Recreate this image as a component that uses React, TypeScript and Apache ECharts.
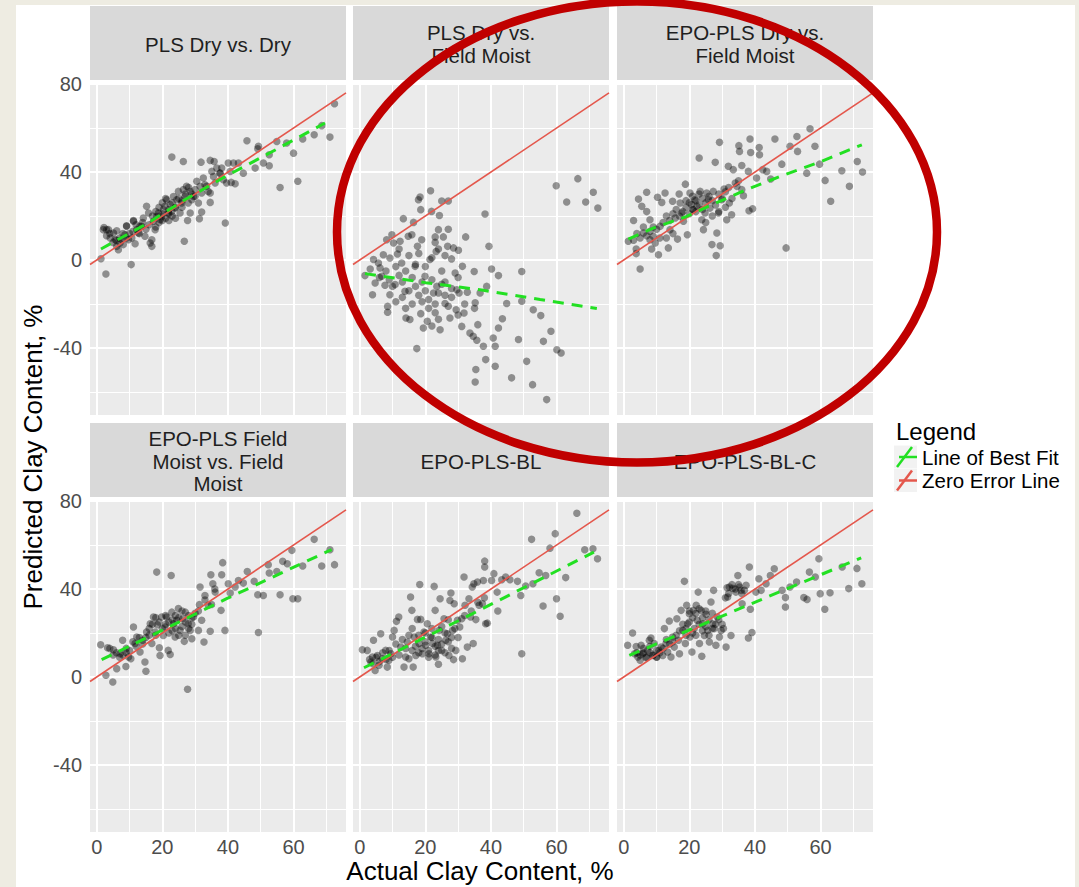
import React, { useEffect, useRef } from "react";
import * as echarts from "echarts";

// ---------- data ----------
const PANEL_TITLES = [
  "PLS Dry vs. Dry",
  "PLS Dry vs.\nField Moist",
  "EPO-PLS Dry vs.\nField Moist",
  "EPO-PLS Field\nMoist vs. Field\nMoist",
  "EPO-PLS-BL",
  "EPO-PLS-BL-C",
];

const X_TICKS = [0, 20, 40, 60];
const X_MINOR = [10, 30, 50, 70];
const Y_TICKS = [-40, 0, 40, 80];
const Y_MINOR = [-60, -20, 20, 60];
const X_MIN = -2.05;
const X_MAX = 76;
const Y_MIN = -70.5;
const Y_MAX = 80.5;

const PANEL1_POINTS = [
  [1.3,0.6],[2.8,-6.4],[10.5,-2.1],[2.2,14.8],[3.6,13.8],[6.1,13.3],[9.1,15.3],[11.2,17.6],[26.7,8.5],[22.9,46.8],
  [26.4,44.8],[31.8,44.5],[34.6,45.3],[35.8,44.8],[39.2,16.8],[45.8,54.2],[49.3,51.7],[49.1,50.6],[50.8,44.1],[52.6,47.9],
  [52.6,42.9],[54.9,53.9],[55.9,33.0],[57.9,53.2],[60.0,48.6],[61.3,35.8],[62.8,55.0],[66.3,57.0],[68.6,61.1],[71.1,55.9],
  [72.5,71.1],[44.7,39.5],[48.3,41.8],[39.6,35.0],[42.2,34.7],[40.7,40.3],[41.7,44.1],[43.2,44.1],[37.6,39.5],[34.6,30.5],
  [34.6,26.2],[32.0,21.8],[31.3,18.8],[27.7,18.0],[28.5,21.4],
  [2.0,13.8],[3.0,13.8],[4.1,10.0],[5.1,12.3],[5.6,9.2],[6.1,6.2],[6.6,4.7],[7.1,7.7],[7.6,9.2],[8.1,7.0],
  [8.6,11.5],[9.1,15.6],[9.7,9.2],[10.7,10.0],[11.2,18.0],[11.7,7.4],[12.2,13.8],[12.7,12.3],[13.2,15.3],[13.7,15.3],
  [14.2,19.1],[14.7,10.8],[15.2,24.4],[15.8,21.4],[16.3,7.7],[16.8,6.2],[16.8,9.2],[17.3,17.6],[17.8,13.8],[18.3,19.8],
  [18.8,21.4],[19.3,18.3],[19.8,19.8],[20.3,22.9],[20.8,24.4],[21.3,27.4],[21.8,21.4],[22.4,25.2],[22.9,22.1],[23.4,28.9],
  [23.9,23.6],[24.4,27.4],[24.9,31.2],[25.4,21.4],[25.9,25.9],[26.4,32.0],[26.9,28.9],[27.4,33.5],[27.9,25.9],[28.5,31.2],
  [29.0,27.4],[29.5,28.9],[30.0,32.0],[30.5,35.8],[31.0,25.9],[31.5,33.5],[32.0,30.5],[32.5,37.3],[33.0,34.2],[33.5,33.5],
  [34.0,31.2],[35.1,40.3],[35.6,38.0],[36.1,35.0],[36.6,41.8],[37.6,39.5],[38.1,41.8],[38.6,36.5],[40.1,44.1],[41.0,35.3],
  [17,20],[18,22],[19,17],[20,21],[21,19],[22,23],[23,20],[24,24],[19,24],[20,26],
  [22,18],[21,28],[18,15],[16,16],[15,14],[14,17],[13,12],[12,16],[11,13],[10,12],
  [9,10],[8,12],[7,10],[6,9],[5,8],[4,12],[3,11],[23,26],[25,28],[26,24],
  [27,30],[28,33],[29,30],[30,29],[24,19],[22,21],[20,18],[26,27],
];

const PANEL2_POINTS = [
  [1.6,-7.1],[3.2,-4.1],[3.9,-15.8],[4.2,0.2],[4.7,-10.5],[5.7,-1.4],[6.2,-3.6],[6.7,-7.4],[7.2,2.4],[7.7,-11.5],
  [8.2,9.2],[8.5,-21.1],[8.5,-23.8],[9.2,0.9],[9.2,-15.8],[9.8,11.5],[10.3,7.7],[10.8,-11.2],[11.5,2.7],[12.3,8.5],
  [12.8,-1.4],[13.3,18.8],[13.8,-14.2],[14.1,-26.4],[14.8,10.8],[15.3,-27.1],[15.9,11.5],[16.4,17.1],[16.9,-2.9],[17.4,-40.3],
  [17.6,6.2],[17.9,27.4],[18.4,28.6],[18.6,22.9],[18.6,-24.4],[18.9,9.2],[19.4,-30.9],[19.9,-7.4],[20.6,-27.9],[21.4,0.2],
  [21.6,31.5],[21.9,22.1],[22.5,-15.0],[23.0,10.5],[23.3,3.9],[23.5,-12.0],[24.0,13.8],[24.3,20.2],[24.5,-31.7],[25.0,26.8],
  [25.5,10.5],[26.0,-19.8],[26.8,6.2],[27.0,26.8],[27.5,-26.4],[28.0,0.5],[28.6,5.5],[29.1,-5.9],[29.4,-22.6],[29.6,-13.5],
  [30.1,4.4],[30.3,-15.0],[31.1,-30.2],[31.3,-2.9],[31.8,-24.1],[32.3,10.5],[32.8,-14.7],[33.6,-33.2],[34.6,-34.7],[34.9,-5.2],
  [35.2,-19.5],[35.4,-49.8],[35.2,-55.5],[35.7,-36.5],[36.0,-29.4],[36.7,-15.0],[37.7,-39.2],[38.2,20.9],[38.4,-45.3],[38.7,-12.0],
  [39.4,6.2],[40.2,-4.1],[40.7,-35.5],[41.3,-39.2],[41.3,-48.3],[42.3,-7.1],[42.3,-30.9],[43.5,-26.7],[44.8,-19.8],[46.3,-53.6],
  [48.4,-36.2],[49.4,-5.2],[49.4,-18.8],[50.9,-46.1],[52.7,-56.7],[52.9,-22.6],[55.2,-25.3],[56.0,-37.0],[57.0,-63.5],[58.3,-32.4],
  [59.9,33.8],[60.1,-40.8],[61.4,-42.3],[63.1,26.4],[66.5,37.0],[68.9,26.4],[71.2,30.8],[72.6,23.6],
  [6,-8],[8,-5],[9,-9],[10,-12],[11,-3],[12,-7],[13,-10],[14,-5],[15,-14],[16,-8],
  [17,-12],[18,-16],[19,-10],[20,-14],[21,-18],[22,-9],[23,-20],[24,-15],[25,-11],[26,-16],
  [27,-21],[28,-13],[20,-3],[22,1],[24,5],[18,3],[16,-20],[14,-22],[21,-22],[23,-24],
  [25,-5],[19,-19],[17,-2],[13,-17],[11,-19],[26,-10],[28,-17],[30,-8],[32,-20],[35,-22],
  [12,5],[15,2],[27,14],[23,8],[26,2],[30,-25],[24,-27],[22,-30],
];

const PANEL3_POINTS = [
  [1.4,8.5],[3.0,18.0],[3.8,5.0],[3.8,2.9],[4.5,27.7],[5.0,-4.1],[5.5,24.4],[6.0,12.3],[7.0,30.8],[7.0,22.0],
  [8.0,18.3],[8.0,9.2],[8.5,5.0],[9.0,10.8],[9.6,7.7],[10.3,28.5],[10.6,2.4],[11.1,15.3],[11.6,26.2],[12.6,30.5],
  [13.6,5.5],[14.1,13.8],[14.9,26.7],[15.7,19.1],[16.4,9.5],[16.9,30.0],[17.2,25.9],[17.7,21.4],[18.2,17.6],[18.8,34.5],
  [19.4,11.5],[20.2,30.5],[20.7,25.2],[21.2,22.9],[21.7,27.4],[22.3,24.4],[23.0,46.4],[23.3,31.2],[23.8,18.3],[24.3,13.8],
  [24.8,21.4],[25.3,30.5],[25.8,27.4],[26.3,23.6],[26.9,7.0],[27.3,31.2],[27.9,44.4],[28.2,2.0],[28.4,12.3],[28.9,21.4],
  [29.2,53.5],[29.4,6.5],[29.9,27.4],[30.6,32.3],[31.4,18.3],[31.9,42.6],[32.2,25.9],[32.9,20.6],[33.4,41.1],[34.5,33.5],
  [35.1,52.0],[35.3,49.4],[36.0,43.0],[36.5,29.2],[38.0,40.3],[38.2,22.4],[38.5,55.0],[38.7,48.9],[39.3,23.3],[40.5,37.3],
  [41.3,51.2],[41.4,47.9],[42.4,41.1],[43.6,40.3],[44.8,36.8],[46.1,55.0],[48.2,43.6],[49.5,5.5],[50.7,51.7],[52.8,56.2],
  [53.0,49.4],[55.8,39.5],[56.8,59.7],[58.3,51.7],[59.7,43.6],[61.4,36.2],[63.1,26.7],[66.5,40.6],[68.8,33.5],[71.2,44.8],
  [72.8,40.0],
  [18,22],[19,24],[20,26],[21,23],[22,27],[23,25],[24,28],[25,26],[21,29],[20,21],
  [22,22],[23,30],[24,23],[26,29],[27,27],[19,27],[17,20],[16,23],[15,21],[14,18],
  [13,20],[12,17],[10,14],[9,15],[8,13],[7,11],[6,15],[5,10],[4,12],[3,9],
  [11,10],[13,10],[15,12],[28,25],[29,30],[30,28],[31,31],[32,33],[33,28],[34,35],
  [35,36],[36,32],[25,17],[27,20],[29,22],[31,24],
];

const PANEL4_POINTS = [
  [1.2,14.7],[2.8,0.8],[3.3,13.3],[4.9,-2.3],[5.1,12.4],[6.1,3.8],[7.1,10.6],[7.9,16.7],[8.9,4.8],[9.7,9.1],
  [10.4,8.3],[11.2,22.7],[11.7,15.2],[12.2,18.2],[13.2,11.4],[14.0,16.7],[14.7,6.8],[15.0,2.6],[15.2,20.5],[16.3,24.2],
  [16.8,15.2],[17.3,27.3],[17.8,20.5],[18.3,47.7],[18.5,23.8],[19.1,13.3],[19.3,9.8],[19.8,27.3],[20.3,18.9],[20.8,22.7],
  [21.3,27.3],[21.8,12.1],[22.4,10.2],[22.7,46.2],[22.9,29.5],[23.4,24.2],[23.9,18.2],[24.4,25.8],[24.9,31.1],[25.4,21.2],
  [26.2,26.5],[26.7,16.2],[27.0,29.5],[27.7,-5.6],[27.9,24.2],[28.5,21.2],[29.0,17.4],[29.5,27.3],[31.0,21.2],[31.3,32.9],
  [31.5,40.9],[32.0,25.8],[32.7,15.9],[33.0,37.1],[34.0,32.6],[34.6,20.8],[34.8,46.5],[35.4,42.4],[36.1,38.6],[37.9,30.3],
  [38.1,46.5],[38.4,52.0],[39.1,21.2],[40.1,42.4],[40.7,38.2],[42.2,40.9],[43.2,43.9],[44.7,42.7],[45.9,48.0],[48.0,43.5],
  [49.1,37.4],[49.3,20.2],[50.8,37.1],[52.3,51.1],[52.6,47.3],[54.9,48.0],[55.9,37.4],[56.7,52.6],[58.1,51.5],[59.5,57.6],
  [59.8,35.6],[61.3,35.6],[62.8,50.5],[66.3,62.6],[68.6,50.5],[71.1,57.9],[72.5,51.1],
  [15,18],[16,22],[17,24],[18,19],[19,25],[20,22],[21,24],[22,20],[23,26],[24,22],
  [25,27],[26,23],[27,25],[28,28],[29,24],[30,29],[21,28],[23,21],[25,19],[18,27],
  [16,19],[14,15],[13,18],[12,14],[10,12],[9,11],[8,10],[7,9],[6,11],[5,10],
  [4,13],[9,13],[11,16],[26,30],[28,22],[22,25],[24,28],[27,19],[29,27],[31,30],
  [33,35],[35,33],[36,40],
];

const PANEL5_POINTS = [
  [0.8,12.4],[2.3,12.1],[3.4,6.8],[3.9,9.1],[4.2,16.7],[4.7,3.0],[5.4,9.8],[5.9,5.3],[6.4,19.7],[6.9,8.3],
  [7.9,12.1],[8.4,4.5],[8.9,7.6],[9.5,10.6],[10.0,18.2],[10.5,21.2],[11.2,25.3],[11.9,27.3],[12.5,13.6],[13.5,4.5],
  [14.0,9.1],[14.5,15.9],[15.0,8.3],[15.5,36.4],[15.9,30.3],[16.3,4.5],[16.6,18.2],[17.1,9.8],[17.6,26.2],[18.1,15.2],
  [18.3,42.1],[18.6,26.2],[19.1,10.6],[19.6,20.5],[20.1,14.4],[20.6,24.2],[21.1,10.6],[21.6,18.2],[22.2,15.2],[22.7,41.2],
  [23.0,30.3],[23.2,9.1],[23.7,14.4],[24.0,5.8],[24.2,21.2],[24.5,35.6],[25.0,12.1],[25.7,26.5],[26.2,16.7],[26.7,19.7],
  [27.2,9.8],[27.5,34.8],[27.8,38.2],[28.3,21.2],[28.6,7.9],[28.8,33.3],[29.3,12.1],[29.8,25.8],[30.5,22.7],[31.1,26.5],
  [31.3,8.3],[31.8,45.5],[32.1,32.6],[32.8,13.6],[33.3,35.6],[33.8,27.3],[34.3,40.9],[34.6,15.2],[34.8,42.4],[35.4,26.1],
  [35.9,43.2],[36.4,32.6],[37.4,33.3],[37.7,43.9],[38.1,52.7],[38.1,50.0],[38.4,24.2],[38.9,24.5],[40.2,43.9],[40.9,47.0],
  [41.9,38.6],[42.1,30.0],[43.3,44.2],[44.5,45.5],[45.8,44.2],[48.1,43.5],[49.1,37.1],[49.4,10.6],[50.6,41.4],[52.4,62.6],
  [52.8,42.4],[54.7,47.4],[55.9,32.3],[56.7,46.2],[58.0,58.6],[59.6,65.2],[60.0,35.6],[61.1,27.6],[62.8,45.2],[66.2,74.5],
  [68.6,57.9],[71.1,58.3],[72.5,53.8],
  [16,12],[17,14],[18,11],[19,13],[20,16],[21,12],[22,18],[23,14],[24,17],[25,15],
  [26,20],[27,16],[28,18],[29,22],[20,20],[22,22],[24,12],[18,19],[16,22],[14,13],
  [12,10],[10,9],[8,8],[6,7],[5,9],[4,6],[3,8],[7,11],[9,12],[11,15],
  [13,17],[15,19],[21,9],[23,10],[25,23],[27,26],[30,18],[32,28],[34,30],[36,34],
  [38,36],[26,11],[28,13],
];

const PANEL6_POINTS = [
  [1.2,14.4],[2.7,20.0],[3.3,10.6],[3.8,13.9],[4.3,9.1],[5.0,7.6],[5.3,14.4],[5.8,10.6],[6.8,8.8],[7.3,12.1],
  [7.8,16.7],[8.3,17.7],[8.8,9.8],[9.3,15.2],[10.1,9.1],[10.7,12.1],[11.4,13.6],[11.9,9.8],[12.4,22.0],[12.9,15.2],
  [13.4,11.4],[13.9,25.5],[14.4,9.1],[14.9,18.2],[15.4,13.6],[16.2,26.5],[16.7,16.7],[17.0,10.6],[17.5,30.3],[18.0,21.2],
  [18.5,43.5],[18.8,15.2],[19.2,32.6],[19.5,24.2],[20.0,28.8],[20.2,18.2],[20.8,11.4],[21.2,30.3],[21.5,22.0],[22.1,32.6],
  [22.4,25.8],[22.7,38.6],[23.1,15.2],[23.6,30.3],[23.8,9.4],[24.1,24.2],[24.6,18.9],[25.1,28.5],[25.6,21.2],[26.1,15.9],
  [26.6,34.1],[27.1,24.2],[27.4,39.4],[27.6,22.0],[28.1,14.4],[28.5,27.3],[29.2,18.2],[29.7,21.2],[30.4,22.0],[31.2,13.6],
  [31.5,40.6],[31.7,36.4],[32.2,40.9],[32.7,18.9],[33.2,40.3],[34.2,38.6],[34.8,46.2],[35.3,40.9],[35.8,39.4],[36.1,33.3],
  [36.8,39.4],[37.3,41.7],[38.0,17.7],[38.3,50.0],[38.6,30.8],[39.1,20.2],[40.3,38.6],[41.2,44.7],[41.9,39.4],[43.4,42.4],
  [44.7,46.2],[45.9,49.2],[48.3,39.4],[49.3,31.8],[49.3,36.1],[50.7,40.9],[52.7,43.2],[54.9,36.1],[55.9,35.3],[56.6,47.7],
  [58.4,45.5],[59.5,53.8],[59.9,37.9],[61.3,30.8],[62.9,38.3],[66.6,50.0],[68.6,40.2],[71.1,49.4],[72.6,42.4],
  [5,10],[6,11],[7,9],[8,11],[9,10],[10,12],[11,11],[12,13],[6,13],[8,14],
  [10,9],[4,11],[19,22],[20,25],[21,27],[22,29],[23,24],[24,27],[25,23],[26,26],
  [27,22],[28,24],[21,20],[22,19],[23,31],[20,30],[19,19],[18,24],[24,21],[25,30],
  [26,19],[27,29],[29,26],[30,24],[17,21],[16,19],[15,16],[14,15],[13,17],[32,38],
  [33,42],[34,40],[35,42],[36,38],[31,36],
];

const FIT1 = [[1.3,5.0],[15,16.3],[27,27.5],[40,38.6],[55,50.5],[69.6,62.3]];
const FIT2 = [[1.6,-6.2],[20,-10.3],[37.7,-13.8],[55,-18.0],[72.3,-22.1]];
const FIT3 = [[1.4,9.5],[9,14.5],[19.2,19.8],[27.3,25.4],[37.5,32.0],[47.7,38.0],[59.9,44.6],[72.6,52.4]];
const FIT4 = [[1.5,7.9],[20,21.3],[39.6,35.6],[62,51.3],[71.6,57.9]];
const FIT5 = [[1.3,4.2],[34.3,28.7],[71.4,56.8]];
const FIT6 = [[1.7,9.8],[40.3,34.2],[72.4,54.2]];

const POINTS = [PANEL1_POINTS, PANEL2_POINTS, PANEL3_POINTS, PANEL4_POINTS, PANEL5_POINTS, PANEL6_POINTS];
const FITS = [FIT1, FIT2, FIT3, FIT4, FIT5, FIT6];

const LEGEND_TITLE = "Legend";
const LEGEND_ITEMS = ["Line of Best Fit", "Zero Error Line"];

// ---------- layout ----------
const PANEL_LEFT = [90, 353, 617];
const PANEL_TOP = [83, 500];
const STRIP_TOP = [6, 423];
const PANEL_W = 256;
const PANEL_H = 332;
const STRIP_H = 74;
const FONT = "'Liberation Sans', Arial, Helvetica, sans-serif";
const GREEN = "#22E022";
const RED = "#E4574C";

function gridLineItems() {
  return [
    ...X_TICKS.map((v) => ({ xAxis: v, lineStyle: { color: "#FFFFFF", width: 2, type: "solid" } })),
    ...X_MINOR.map((v) => ({ xAxis: v, lineStyle: { color: "#FFFFFF", width: 1, type: "solid" } })),
    ...Y_TICKS.map((v) => ({ yAxis: v, lineStyle: { color: "#FFFFFF", width: 2, type: "solid" } })),
    ...Y_MINOR.map((v) => ({ yAxis: v, lineStyle: { color: "#FFFFFF", width: 1, type: "solid" } })),
  ];
}

function buildOption() {
  const grid: any[] = [];
  const xAxis: any[] = [];
  const yAxis: any[] = [];
  const series: any[] = [];
  const graphic: any[] = [];

  for (let i = 0; i < 6; i++) {
    const r = Math.floor(i / 3);
    const c = i % 3;
    const left = PANEL_LEFT[c];
    const top = PANEL_TOP[r];
    grid.push({
      left, top, width: PANEL_W, height: PANEL_H,
      show: true, backgroundColor: "#EBEBEB", borderWidth: 0,
      containLabel: false, outerBoundsMode: "none",
    });
    xAxis.push({
      gridIndex: i, type: "value", min: X_MIN, max: X_MAX,
      axisLine: { show: false },
      splitLine: { show: false },
      axisTick: { show: r === 1, customValues: X_TICKS, length: 5, lineStyle: { color: "#333333", width: 1 } },
      axisLabel: { show: r === 1, customValues: X_TICKS, margin: 5, fontSize: 20, color: "#4D4D4D", fontFamily: FONT },
    });
    yAxis.push({
      gridIndex: i, type: "value", min: Y_MIN, max: Y_MAX,
      axisLine: { show: false },
      splitLine: { show: false },
      axisTick: { show: c === 0, customValues: Y_TICKS, length: 5, lineStyle: { color: "#333333", width: 1 } },
      axisLabel: { show: c === 0, customValues: Y_TICKS, margin: 8, fontSize: 20, color: "#4D4D4D", fontFamily: FONT },
    });

    series.push({
      type: "line",
      name: "Zero Error Line",
      xAxisIndex: i, yAxisIndex: i,
      data: [[X_MIN, X_MIN], [X_MAX, X_MAX]],
      showSymbol: false, symbol: "none",
      lineStyle: { color: RED, width: 1.6 },
      z: 4, silent: true,
      markLine: {
        silent: true, z: 1, symbol: ["none", "none"], label: { show: false },
        emphasis: { disabled: true }, animation: false,
        data: gridLineItems(),
      },
    });
    series.push({
      type: "scatter",
      xAxisIndex: i, yAxisIndex: i,
      data: POINTS[i],
      symbolSize: 7.5,
      itemStyle: { color: "rgba(0,0,0,0.5)" },
      z: 3, silent: true,
    });
    series.push({
      type: "line",
      name: "Line of Best Fit",
      xAxisIndex: i, yAxisIndex: i,
      data: FITS[i],
      showSymbol: false, symbol: "none",
      lineStyle: { color: GREEN, width: 3, type: [11, 8] },
      z: 5, silent: true,
    });

    graphic.push({
      type: "rect", z: 10,
      shape: { x: left, y: STRIP_TOP[r], width: PANEL_W, height: STRIP_H },
      style: { fill: "#D9D9D9" },
    });
    graphic.push({
      type: "text", z: 11,
      x: left + PANEL_W / 2, y: STRIP_TOP[r] + STRIP_H / 2 + 1,
      style: {
        text: PANEL_TITLES[i], fill: "#1F1F1F", fontSize: 20.5, fontFamily: FONT,
        align: "center", verticalAlign: "middle", lineHeight: 22.5,
      },
    });
  }

  graphic.push({
    type: "text", z: 11, x: 480, y: 871,
    style: { text: "Actual Clay Content, %", fill: "#000", fontSize: 26, fontFamily: FONT, align: "center", verticalAlign: "middle" },
  });
  graphic.push({
    type: "text", z: 11, x: 33, y: 457, rotation: Math.PI / 2,
    style: { text: "Predicted Clay Content, %", fill: "#000", fontSize: 26, fontFamily: FONT, align: "center", verticalAlign: "middle" },
  });

  graphic.push({
    type: "text", z: 11, x: 896, y: 431,
    style: { text: LEGEND_TITLE, fill: "#000", fontSize: 24, fontFamily: FONT, align: "left", verticalAlign: "middle" },
  });
  const keyColors = [GREEN, RED];
  LEGEND_ITEMS.forEach((label, k) => {
    const cy = 457 + k * 23.5;
    graphic.push({ type: "rect", z: 10, shape: { x: 894, y: cy - 11.5, width: 23, height: 23 }, style: { fill: "#F2F2F2" } });
    graphic.push({ type: "line", z: 11, shape: { x1: 897, y1: cy + 10, x2: 912, y2: cy - 10 }, style: { stroke: keyColors[k], lineWidth: 2.5 } });
    graphic.push({ type: "line", z: 11, shape: { x1: 899, y1: cy, x2: 917, y2: cy }, style: { stroke: keyColors[k], lineWidth: 2.5 } });
    graphic.push({
      type: "text", z: 11, x: 922, y: cy,
      style: { text: label, fill: "#000", fontSize: 20.5, fontFamily: FONT, align: "left", verticalAlign: "middle" },
    });
  });

  graphic.push({
    type: "ellipse", z: 100,
    shape: { cx: 637, cy: 232, rx: 300, ry: 230.5 },
    style: { fill: "transparent", stroke: "#C00000", lineWidth: 8.5 },
  });

  return {
    animation: false,
    backgroundColor: "transparent",
    grid, xAxis, yAxis, series, graphic,
  };
}

export default function App() {
  const ref = useRef<HTMLDivElement>(null);
  useEffect(() => {
    if (!ref.current) return;
    const chart = echarts.init(ref.current, null, { renderer: "svg", width: 1079, height: 887 });
    chart.setOption(buildOption() as any);
    return () => chart.dispose();
  }, []);
  return (
    <div style={{ position: "fixed", left: 0, top: 0, width: 1079, height: 887, background: "#EEECE2", overflow: "hidden" }}>
      <div style={{ position: "absolute", left: 16, top: 5, width: 1059, height: 882, background: "#FFFFFF" }} />
      <div ref={ref} style={{ position: "absolute", left: 0, top: 0, width: 1079, height: 887 }} />
    </div>
  );
}
